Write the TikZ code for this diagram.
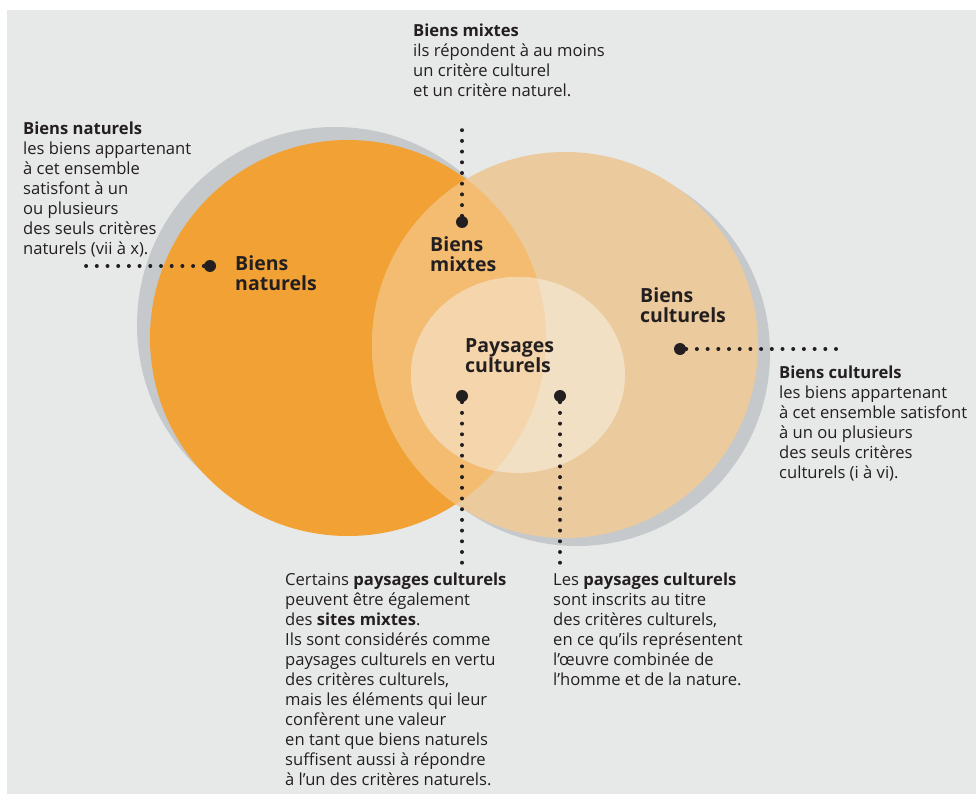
\documentclass[tikz,border=0pt]{standalone}
\usepackage{fontspec}
\setmainfont{Open Sans}
\definecolor{fond}{HTML}{E7E8E8}
\definecolor{ombre}{HTML}{C6C9CB}
\definecolor{orangenat}{HTML}{F2A234}
\definecolor{peachcult}{HTML}{EBCA9D}
\definecolor{mixte}{HTML}{F3BC71}
\definecolor{paysg}{HTML}{F5D6AC}
\definecolor{paysd}{HTML}{F2E0C5}
\definecolor{encre}{HTML}{231F20}
\tikzset{
  legende/.style={anchor=north west,inner sep=0pt,align=left,text=encre,
    font=\fontsize{16.6}{20}\selectfont},
  titre/.style={anchor=north west,inner sep=0pt,align=left,text=encre,
    font=\fontsize{19.5}{20.5}\selectfont\bfseries},
  gros point/.style={circle,fill=encre,inner sep=0pt,minimum size=12pt},
  pointille/.style={encre,line width=4pt,line cap=round,dash pattern=on 0pt off 10.7pt},
}
\begin{document}
\begin{tikzpicture}[x=1pt,y=-1pt]
  \useasboundingbox (0,0) rectangle (976,794);
  \fill[fond] (7,10) rectangle (976,794);
  % ensembles
  \fill[ombre] (335,325) circle[radius=198pt];
  \fill[orangenat] (348,338) circle[radius=198pt];
  \fill[ombre] (577,353) circle[radius=193pt];
  \fill[peachcult] (565,345) circle[radius=193pt];
  \begin{scope}
    \clip (348,338) circle[radius=198pt];
    \fill[mixte] (565,345) circle[radius=193pt];
  \end{scope}
  \fill[paysd] (518,375) circle[x radius=107pt,y radius=98pt];
  \begin{scope}
    \clip (348,338) circle[radius=198pt];
    \fill[paysg] (518,375) circle[x radius=107pt,y radius=98pt];
  \end{scope}
  % noms des ensembles
  \node[titre] (tnat) at (235,255) {Biens\\naturels};
  \node[titre] (tmix) at (430,236) {Biens\\mixtes};
  \node[titre] (tcult) at (640,287) {Biens\\culturels};
  \node[titre] (tpays) at (465,338) {Paysages\\culturels};
  % points et renvois
  \node[gros point] (pnat) at (210,266) {};
  \node[gros point] (pmix) at (462,222) {};
  \node[gros point] (pcult) at (680,349) {};
  \node[gros point] (ppays1) at (462,396) {};
  \node[gros point] (ppays2) at (560,396) {};
  \coordinate (bnat) at (85,266);
  \coordinate (bmix) at (462,130);
  \coordinate (bcult) at (836,349);
  \coordinate (bpays1) at (462,564);
  \coordinate (bpays2) at (560,564);
  \draw[pointille] (pnat) -- (bnat);
  \draw[pointille] (pmix) -- (bmix);
  \draw[pointille] (pcult) -- (bcult);
  \draw[pointille] (ppays1) -- (bpays1);
  \draw[pointille] (ppays2) -- (bpays2);
  % legendes
  \node[legende] (lnat) at (23,122) {\textbf{Biens naturels}\\les biens appartenant\\à cet ensemble\\satisfont à un\\ou plusieurs\\des seuls critères\\naturels (vii à x).};
  \node[legende] (lmix) at (413,24) {\textbf{Biens mixtes}\\ils répondent à au moins\\un critère culturel\\et un critère naturel.};
  \node[legende] (lcult) at (779,366) {\textbf{Biens culturels}\\les biens appartenant\\à cet ensemble satisfont\\à un ou plusieurs\\des seuls critères\\culturels (i à vi).};
  \node[legende] (lpays1) at (285,573) {Certains \textbf{paysages culturels}\\peuvent être également\\des \textbf{sites mixtes}.\\Ils sont considérés comme\\paysages culturels en vertu\\des critères culturels,\\mais les éléments qui leur\\confèrent une valeur\\en tant que biens naturels\\suffisent aussi à répondre\\à l’un des critères naturels.};
  \node[legende] (lpays2) at (553,573) {Les \textbf{paysages culturels}\\sont inscrits au titre\\des critères culturels,\\en ce qu’ils représentent\\l’œuvre combinée de\\l’homme et de la nature.};
\end{tikzpicture}
\end{document}
